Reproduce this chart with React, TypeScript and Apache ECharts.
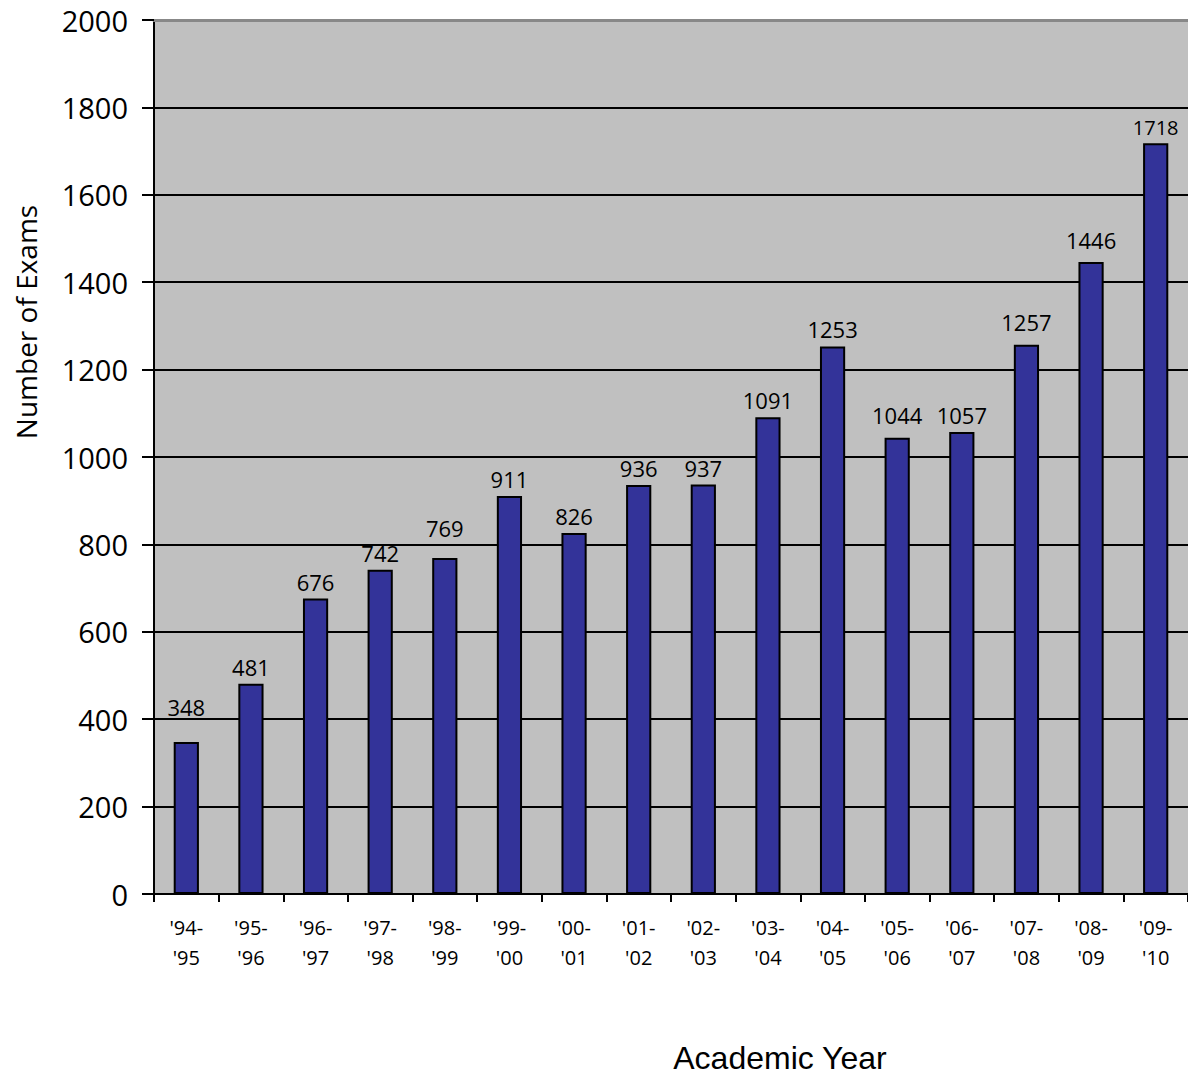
import React, { useEffect, useRef } from "react";
import * as echarts from "echarts";

const categories = [
  "'94-\n'95", "'95-\n'96", "'96-\n'97", "'97-\n'98", "'98-\n'99", "'99-\n'00",
  "'00-\n'01", "'01-\n'02", "'02-\n'03", "'03-\n'04", "'04-\n'05", "'05-\n'06",
  "'06-\n'07", "'07-\n'08", "'08-\n'09", "'09-\n'10",
];
const exams = [348, 481, 676, 742, 769, 911, 826, 936, 937, 1091, 1253, 1044, 1057, 1257, 1446, 1718];

const yTitle = "Number of Exams";
const xTitle = "Academic Year";

// extra label lift (px) per bar, matching the reference's label placement
const labelLift = [18, 0, 0, 0, 13, 0, 0, 0, 0, 0, 0, 6, 0, 6, 5, 0];

export default function App() {
  const ref = useRef<HTMLDivElement>(null);
  useEffect(() => {
    if (!ref.current) return;
    const chart = echarts.init(ref.current, null, { renderer: "svg" });
    const font = "'Open Sans', sans-serif";
    chart.setOption({
      animation: false,
      grid: {
        left: 154,
        top: 20,
        width: 1036,
        height: 874,
        show: true,
        backgroundColor: "#c0c0c0",
        borderWidth: 0,
      },
      xAxis: [
        {
          type: "category",
          data: categories,
          axisLine: { lineStyle: { color: "#000", width: 2 } },
          axisTick: { show: true, interval: 0, length: 8, lineStyle: { color: "#000", width: 2 } },
          axisLabel: {
            interval: 0,
            margin: 18,
            fontFamily: font,
            fontSize: 20,
            lineHeight: 30,
            color: "#000",
          },
        },
        {
          type: "category",
          data: categories,
          position: "top",
          axisLine: { show: true, lineStyle: { color: "#888888", width: 3 } },
          axisTick: { show: false },
          axisLabel: { show: false },
        },
      ],
      yAxis: {
        type: "value",
        min: 0,
        max: 2000,
        interval: 200,
        axisLine: { show: true, lineStyle: { color: "#000", width: 2 } },
        axisTick: { show: true, length: 12, lineStyle: { color: "#000", width: 2 } },
        axisLabel: {
          margin: 26,
          fontFamily: font,
          fontSize: 29,
          color: "#000",
          formatter: (v: number) => String(v),
        },
        splitLine: { show: true, showMaxLine: false, lineStyle: { color: "#000", width: 2 } },
      },
      graphic: [
        {
          type: "text",
          x: 26,
          y: 322,
          rotation: Math.PI / 2,
          style: {
            text: yTitle,
            fontFamily: font,
            fontSize: 28,
            fill: "#000",
            textAlign: "center",
            textVerticalAlign: "middle",
          },
        },
        {
          type: "text",
          x: 780,
          y: 1058,
          style: {
            text: xTitle,
            fontFamily: "'Liberation Sans', Arial, sans-serif",
            fontSize: 32,
            fill: "#000",
            textAlign: "center",
            textVerticalAlign: "middle",
          },
        },
      ],
      series: [
        {
          type: "bar",
          xAxisIndex: 0,
          data: exams.map((v, i) => ({
            value: v,
            label: {
              distance: 6 + labelLift[i],
              fontSize: i === exams.length - 1 ? 20 : 22,
            },
          })),
          barCategoryGap: "61%",
          itemStyle: { color: "#333399", borderColor: "#000", borderWidth: 2 },
          label: {
            show: true,
            position: "top",
            distance: 6,
            fontFamily: font,
            fontSize: 22,
            color: "#000",
          },
        },
      ],
    });
    return () => chart.dispose();
  }, []);
  return (
    <div
      ref={ref}
      style={{ position: "absolute", left: 0, top: 0, width: 1188, height: 1078, overflow: "hidden" }}
    />
  );
}
